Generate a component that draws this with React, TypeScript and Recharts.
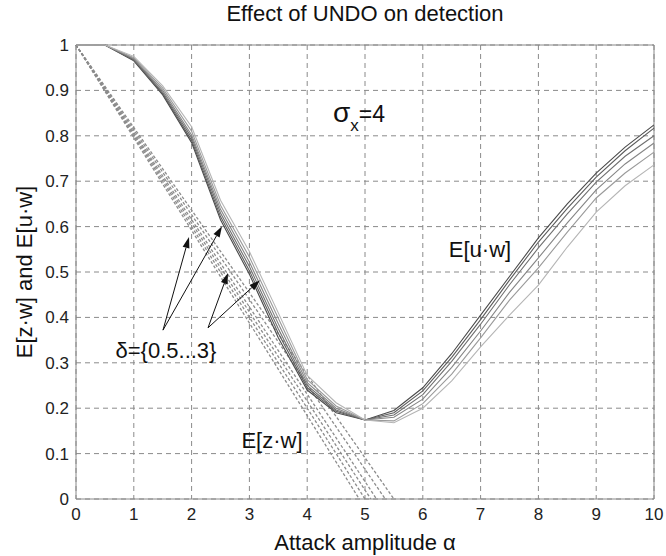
import React from 'react';
import { LineChart, Line, XAxis, YAxis, CartesianGrid, ReferenceLine, ReferenceDot, Label } from 'recharts';

// attack amplitude samples
const alphas = [0, 0.5, 1, 1.5, 2, 2.5, 3, 3.5, 4, 4.5, 5, 5.5, 6, 6.5, 7, 7.5, 8, 8.5, 9, 9.5, 10];

// E[u·w] for delta = 0.5 ... 3 (darkest to lightest)
const uw1 = [1, 1, 0.965, 0.89, 0.785, 0.615, 0.495, 0.355, 0.24, 0.19, 0.174, 0.195, 0.245, 0.32, 0.405, 0.49, 0.575, 0.65, 0.718, 0.775, 0.824];
const uw2 = [1, 1, 0.967, 0.893, 0.79, 0.622, 0.503, 0.365, 0.245, 0.193, 0.174, 0.19, 0.238, 0.312, 0.395, 0.482, 0.566, 0.64, 0.709, 0.767, 0.817];
const uw3 = [1, 1, 0.968, 0.896, 0.796, 0.63, 0.512, 0.375, 0.25, 0.196, 0.174, 0.185, 0.23, 0.303, 0.385, 0.472, 0.553, 0.628, 0.698, 0.755, 0.8];
const uw4 = [1, 1, 0.97, 0.9, 0.802, 0.638, 0.522, 0.386, 0.256, 0.2, 0.174, 0.18, 0.22, 0.29, 0.37, 0.455, 0.531, 0.608, 0.681, 0.738, 0.784];
const uw5 = [1, 1, 0.972, 0.905, 0.81, 0.647, 0.533, 0.398, 0.263, 0.205, 0.174, 0.172, 0.21, 0.275, 0.355, 0.438, 0.509, 0.588, 0.663, 0.718, 0.764];
const uw6 = [1, 1, 0.975, 0.91, 0.82, 0.658, 0.545, 0.41, 0.272, 0.212, 0.174, 0.168, 0.2, 0.26, 0.335, 0.405, 0.471, 0.555, 0.632, 0.69, 0.736];

// E[z·w]: straight lines from (0,1) to where they reach zero
const zwStart = 1;
const zwZeroAt = [4.9, 5.0, 5.1, 5.2, 5.35, 5.5];

const xTicks = [0, 1, 2, 3, 4, 5, 6, 7, 8, 9, 10];
const yTicks = [0, 0.1, 0.2, 0.3, 0.4, 0.5, 0.6, 0.7, 0.8, 0.9, 1];

// arrows from the delta label to the curves: [fromX, fromY, toX, toY]
const arrows = [
  [1.505, 0.372, 1.955, 0.577],
  [1.505, 0.372, 2.526, 0.601],
  [2.284, 0.377, 2.63, 0.498],
  [2.284, 0.377, 3.183, 0.482],
];

const uwSeries = [uw1, uw2, uw3, uw4, uw5, uw6];
const uwColors = ['#4a4a4a', '#5c5c5c', '#707070', '#858585', '#9a9a9a', '#b5b5b5'];

const rows = alphas.map((a, i) => {
  const r: any = { a };
  uwSeries.forEach((s, k) => { r['u' + k] = s[i]; });
  return r;
});

const zwLines = zwZeroAt.map((b) => [{ a: 0, v: zwStart }, { a: b, v: 0 }]);

const FONT = '"Liberation Sans", Arial, sans-serif';

const Arrow = (props: any) => {
  const { x1, y1, x2, y2 } = props;
  const ang = Math.atan2(y2 - y1, x2 - x1);
  const len = 11;
  const w = 3.5;
  const bx = x2 - len * Math.cos(ang);
  const by = y2 - len * Math.sin(ang);
  const px = -Math.sin(ang) * w;
  const py = Math.cos(ang) * w;
  return (
    <g>
      <line x1={x1} y1={y1} x2={bx} y2={by} stroke="#111" strokeWidth={1} />
      <polygon points={`${x2},${y2} ${bx + px},${by + py} ${bx - px},${by - py}`} fill="#111" />
    </g>
  );
};

export default function App() {
  return (
    <div style={{ position: 'absolute', left: 0, top: 0, width: 666, height: 556, background: '#fff', fontFamily: FONT }}>
      <div style={{ position: 'absolute', left: 76, width: 578, top: 1, textAlign: 'center', fontSize: 22, color: '#111' }}>
        Effect of UNDO on detection
      </div>
      <LineChart width={666} height={556} data={rows} margin={{ top: 45, right: 12, left: 0, bottom: 0 }}>
        <CartesianGrid stroke="#8a8a8a" strokeDasharray="5 4" />
        <XAxis
          dataKey="a"
          type="number"
          domain={[0, 10]}
          ticks={xTicks}
          height={57}
          stroke="#888"
          tickSize={0}
          tickMargin={9}
          tick={{ fill: '#222', fontSize: 17, fontFamily: FONT }}
        >
          <Label
            content={() => (
              <text x={365} y={542} textAnchor="middle" dominantBaseline="central" fontFamily={FONT} fontSize={22} fill="#111">
                Attack amplitude α
              </text>
            )}
          />
        </XAxis>
        <YAxis
          type="number"
          domain={[0, 1]}
          ticks={yTicks}
          width={76}
          stroke="#888"
          tickSize={0}
          tickMargin={7}
          tickFormatter={(v: number) => String(Number(v.toFixed(1)))}
          tick={{ fill: '#222', fontSize: 17, fontFamily: FONT }}
        >
          <Label
            content={() => (
              <text x={24} y={272} transform="rotate(-90 24 272)" textAnchor="middle" dominantBaseline="central" fontFamily={FONT} fontSize={22} fill="#111">
                E[z·w] and E[u·w]
              </text>
            )}
          />
        </YAxis>
        <ReferenceLine x={10} stroke="#888" />
        <ReferenceLine y={1} stroke="#888" />
        {zwLines.map((d, k) => (
          <Line
            key={'z' + k}
            data={d}
            dataKey="v"
            stroke="#8c8c8c"
            strokeWidth={1.3}
            strokeDasharray="3 2"
            dot={false}
            isAnimationActive={false}
          />
        ))}
        {uwSeries.map((_, k) => (
          <Line
            key={'u' + k}
            dataKey={'u' + k}
            type="linear"
            stroke={uwColors[k]}
            strokeWidth={1.1}
            dot={false}
            isAnimationActive={false}
          />
        ))}
        {arrows.map((a, k) => (
          <ReferenceLine
            key={'ar' + k}
            segment={[{ x: a[0], y: a[1] }, { x: a[2], y: a[3] }]}
            shape={Arrow}
          />
        ))}
        <ReferenceDot
          x={4.446}
          y={0.83}
          r={0}
          shape={(p: any) => (
            <text x={p.cx} y={p.cy} fontFamily={FONT} fill="#111">
              <tspan fontSize={28}>σ</tspan>
              <tspan fontSize={17} dy={9}>x</tspan>
              <tspan fontSize={23} dy={-9}>=4</tspan>
            </text>
          )}
        />
        <ReferenceDot x={6.99} y={0.55} r={0} shape={(p: any) => (
          <text x={p.cx} y={p.cy} textAnchor="middle" dominantBaseline="central" fontFamily={FONT} fontSize={22} fill="#111">E[u·w]</text>
        )} />
        <ReferenceDot x={3.39} y={0.128} r={0} shape={(p: any) => (
          <text x={p.cx} y={p.cy} textAnchor="middle" dominantBaseline="central" fontFamily={FONT} fontSize={22} fill="#111">E[z·w]</text>
        )} />
        <ReferenceDot x={1.557} y={0.328} r={0} shape={(p: any) => (
          <text x={p.cx} y={p.cy} textAnchor="middle" dominantBaseline="central" fontFamily={FONT} fontSize={22} fill="#111">δ={'{'}0.5...3{'}'}</text>
        )} />
      </LineChart>
    </div>
  );
}
